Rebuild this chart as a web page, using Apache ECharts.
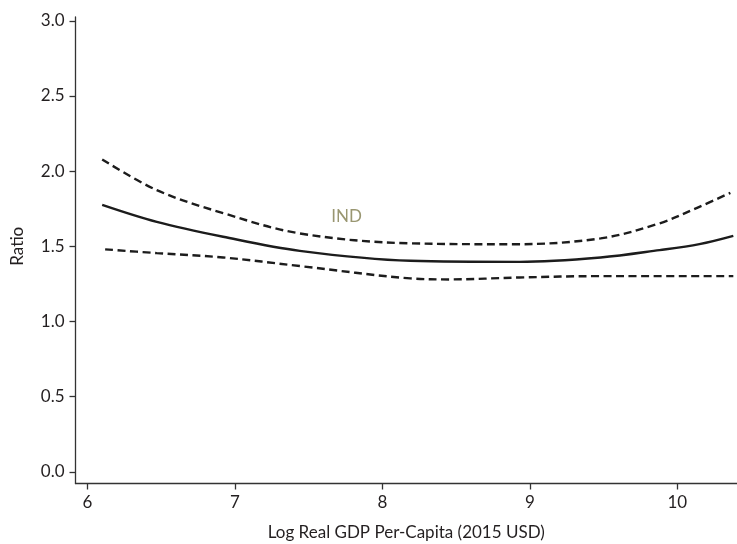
<!DOCTYPE html>
<html>
<head>
<meta charset="utf-8">
<script src="https://cdn.jsdelivr.net/npm/echarts@6/dist/echarts.min.js"></script>
<style>
  html, body { margin: 0; padding: 0; background: #ffffff; }
  #chart { width: 737px; height: 544px; }
</style>
</head>
<body>
<div id="chart"></div>
<script>
// Fitted ratio against log real GDP per capita, with upper and lower confidence bands
const fitX   = [6.10, 6.47, 6.92, 7.44, 8.19, 8.93, 9.48, 9.88, 10.15, 10.38];
const fitY   = [1.776, 1.663, 1.564, 1.470, 1.404, 1.397, 1.426, 1.475, 1.515, 1.570];

const upperX = [6.10, 6.47, 6.92, 7.44, 8.19, 8.90, 9.48, 9.88, 10.15, 10.36];
const upperY = [2.078, 1.874, 1.721, 1.586, 1.520, 1.514, 1.553, 1.653, 1.763, 1.856];

const lowerX = [6.12, 6.47, 6.92, 7.44, 8.19, 8.46, 8.93, 9.48, 10.38];
const lowerY = [1.480, 1.455, 1.426, 1.369, 1.287, 1.280, 1.293, 1.302, 1.302];

const xTicks = [6, 7, 8, 9, 10];
const yTicks = [0, 0.5, 1, 1.5, 2, 2.5, 3];

const countryLabel = { name: 'IND', x: 7.757, y: 1.70 };

const pairs = (xs, ys) => xs.map((x, i) => [x, ys[i]]);

const FONT = 'Lato';
const SIZE = 17;
const TEXT = '#231f20';
const AXIS = '#333333';
const CURVE = '#1c1c1c';

const chart = echarts.init(document.getElementById('chart'), null, { renderer: 'canvas' });

chart.setOption({
  animation: false,
  backgroundColor: '#ffffff',
  grid: { left: 75.5, right: 0, top: 17, bottom: 60.5, containLabel: false, outerBoundsMode: 'none' },
  xAxis: {
    type: 'value',
    min: 5.919,
    max: 10.405,
    name: 'Log Real GDP Per-Capita (2015 USD)',
    nameLocation: 'middle',
    nameGap: 41,
    nameTextStyle: { fontFamily: FONT, fontSize: SIZE, color: TEXT },
    splitLine: { show: false },
    axisLine: { show: true, onZero: false, lineStyle: { color: AXIS, width: 1.3 } },
    axisTick: { show: true, length: 6, lineStyle: { color: AXIS, width: 1.3 }, customValues: xTicks },
    axisLabel: {
      customValues: xTicks,
      margin: 11,
      fontFamily: FONT, fontSize: SIZE, color: TEXT,
      formatter: v => String(v)
    }
  },
  yAxis: {
    type: 'value',
    min: -0.077,
    max: 3.025,
    name: 'Ratio',
    nameLocation: 'middle',
    nameGap: 49,
    nameRotate: 90,
    nameTextStyle: { fontFamily: FONT, fontSize: SIZE, color: TEXT, padding: [0, 0, 0, 8] },
    splitLine: { show: false },
    axisLine: { show: true, onZero: false, lineStyle: { color: AXIS, width: 1.3 } },
    axisTick: { show: true, length: 6, lineStyle: { color: AXIS, width: 1.3 }, customValues: yTicks },
    axisLabel: {
      customValues: yTicks,
      margin: 11,
      fontFamily: FONT, fontSize: SIZE, color: TEXT,
      formatter: v => Number(v).toFixed(1)
    }
  },
  series: [
    {
      name: 'Upper band',
      type: 'line',
      data: pairs(upperX, upperY),
      smooth: 0.35,
      symbol: 'none',
      lineStyle: { color: CURVE, width: 2.4, type: [8, 4.5] }
    },
    {
      name: 'Fit',
      type: 'line',
      data: pairs(fitX, fitY),
      smooth: 0.35,
      symbol: 'none',
      lineStyle: { color: CURVE, width: 2.4, type: 'solid' }
    },
    {
      name: 'Lower band',
      type: 'line',
      data: pairs(lowerX, lowerY),
      smooth: 0.35,
      symbol: 'none',
      lineStyle: { color: CURVE, width: 2.4, type: [8, 4.5] }
    },
    {
      name: 'Country',
      type: 'scatter',
      data: [[countryLabel.x, countryLabel.y]],
      symbolSize: 1,
      itemStyle: { color: 'rgba(0,0,0,0)' },
      label: {
        show: true,
        position: 'inside',
        formatter: countryLabel.name,
        fontFamily: FONT, fontSize: SIZE, color: '#7f7c4e'
      }
    }
  ]
});
</script>
</body>
</html>
